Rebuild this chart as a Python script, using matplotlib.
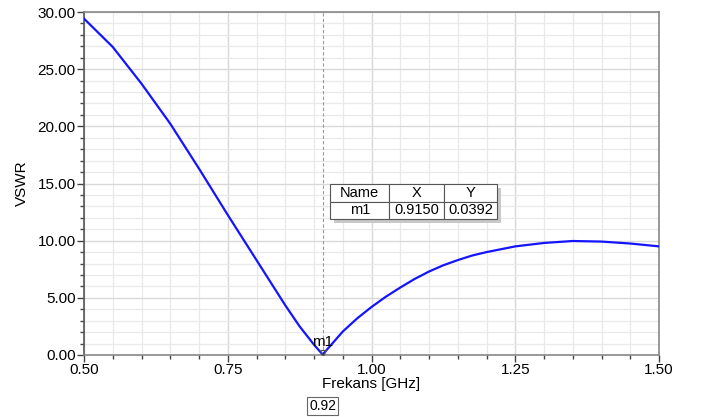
import matplotlib.pyplot as plt
from matplotlib.ticker import MultipleLocator
from matplotlib.patches import Rectangle

# VSWR sweep (frequency in GHz)
freq = [0.50, 0.55, 0.60, 0.65, 0.70, 0.75, 0.80, 0.85, 0.875, 0.90, 0.915,
        0.93, 0.95, 0.975, 1.00, 1.025, 1.05, 1.075, 1.10, 1.125, 1.15, 1.175,
        1.20, 1.25, 1.30, 1.35, 1.40, 1.45, 1.50]
vswr = [29.42, 26.94, 23.73, 20.23, 16.3, 12.25, 8.3, 4.35, 2.5, 0.9, 0.0392,
        0.9, 2.05, 3.2, 4.2, 5.1, 5.9, 6.65, 7.3, 7.85, 8.3, 8.7,
        9.0, 9.5, 9.8, 9.97, 9.92, 9.75, 9.5]

marker_name = 'm1'
marker_x = 0.9150
marker_y = 0.0392
marker_tag = '0.92'

plt.rcParams['font.family'] = ['Liberation Sans', 'DejaVu Sans']

fig = plt.figure(figsize=(7.03, 4.17), dpi=100)
ax = fig.add_axes([84 / 703, 1 - 355 / 417, 575 / 703, 343 / 417])

ax.plot(freq, vswr, color='#1414ff', linewidth=1.6, zorder=3)

ax.set_xlim(0.5, 1.5)
ax.set_ylim(0, 30)
ax.xaxis.set_major_locator(MultipleLocator(0.25))
ax.xaxis.set_minor_locator(MultipleLocator(0.05))
ax.yaxis.set_major_locator(MultipleLocator(5))
ax.yaxis.set_minor_locator(MultipleLocator(1))
ax.xaxis.set_major_formatter(lambda v, p: f"{v:.2f}")
ax.yaxis.set_major_formatter(lambda v, p: f"{v:.2f}")
ax.grid(True, which='major', color='#d9d9d9', linewidth=1.0)
ax.grid(True, which='minor', color='#e9e9e9', linewidth=0.9)
ax.tick_params(which='major', length=5, width=1, color='#444444', labelsize=11, pad=1)
ax.tick_params(which='minor', length=3, width=1, color='#444444')
for s in ax.spines.values():
    s.set_color('#888888')
    s.set_linewidth(1.2)
ax.spines['left'].set_color('#555555')

ax.set_xlabel('Frekans [GHz]', fontsize=11, labelpad=0)
ax.set_ylabel('VSWR', fontsize=11, labelpad=6)

# marker line, symbol and label
ax.axvline(marker_x, color='#999999', linestyle=(0, (3, 2)), linewidth=0.8, zorder=2)
ax.plot([marker_x], [marker_y + 0.15], marker='v', markersize=5, markerfacecolor='none',
        markeredgecolor='#555555', markeredgewidth=0.8, zorder=4)
ax.text(marker_x, 0.5, marker_name, fontsize=11, ha='center', va='bottom', zorder=5)
ax.text(marker_x, -0.148, marker_tag, fontsize=10, ha='center', va='center',
        transform=ax.get_xaxis_transform(), clip_on=False,
        bbox=dict(boxstyle='square,pad=0.15', facecolor='white', edgecolor='#666666', linewidth=0.8))

# marker readout table with drop shadow
tx, ty, tw, th = 0.428, 0.3965, 0.2905, 0.102
ax.add_patch(Rectangle((tx + 0.006, ty - 0.012), tw, th, transform=ax.transAxes,
                       facecolor='#c8c8c8', edgecolor='none', zorder=5))
tbl = ax.table(cellText=[['Name', 'X', 'Y'], [marker_name, f"{marker_x:.4f}", f"{marker_y:.4f}"]],
               cellLoc='center', bbox=[tx, ty, tw, th], colWidths=[55, 51, 49], zorder=6)
tbl.auto_set_font_size(False)
tbl.set_fontsize(10.5)
for cell in tbl.get_celld().values():
    cell.set_edgecolor('#555555')
    cell.set_linewidth(0.8)
    cell.set_facecolor('white')

fig.savefig('out.png', dpi=100)
